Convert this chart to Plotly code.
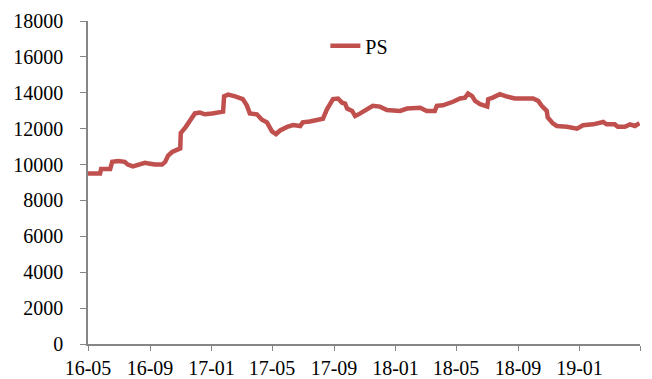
import plotly.graph_objects as go

# PS series
dates = [
    "2016-05-01", "2016-05-25", "2016-05-27", "2016-06-14", "2016-06-18", "2016-06-30",
    "2016-07-13", "2016-07-19", "2016-07-29", "2016-08-12", "2016-08-22", "2016-09-01",
    "2016-09-11", "2016-09-25", "2016-10-01", "2016-10-07", "2016-10-15", "2016-10-31",
    "2016-11-01", "2016-11-11", "2016-11-21", "2016-11-29", "2016-12-09", "2016-12-19",
    "2017-01-02", "2017-01-18", "2017-01-24", "2017-01-26", "2017-02-03", "2017-02-17",
    "2017-03-04", "2017-03-12", "2017-03-18", "2017-04-01", "2017-04-11", "2017-04-21",
    "2017-05-01", "2017-05-09", "2017-05-17", "2017-05-31", "2017-06-12", "2017-06-26",
    "2017-07-01", "2017-07-15", "2017-07-29", "2017-08-10", "2017-08-18", "2017-08-30",
    "2017-09-09", "2017-09-17", "2017-09-23", "2017-09-27", "2017-10-07", "2017-10-13",
    "2017-10-23", "2017-11-05", "2017-11-17", "2017-12-01", "2017-12-15", "2018-01-10",
    "2018-01-24", "2018-02-19", "2018-03-04", "2018-03-20", "2018-03-24", "2018-04-05",
    "2018-04-13", "2018-04-25", "2018-05-09", "2018-05-19", "2018-05-25", "2018-06-02",
    "2018-06-08", "2018-06-18", "2018-07-02", "2018-07-04", "2018-07-13", "2018-07-27",
    "2018-08-10", "2018-08-26", "2018-10-01", "2018-10-11", "2018-10-18", "2018-10-28",
    "2018-10-30", "2018-11-09", "2018-11-17", "2018-12-07", "2018-12-27", "2019-01-08",
    "2019-01-28", "2019-02-17", "2019-02-24", "2019-03-12", "2019-03-18", "2019-04-01",
    "2019-04-11", "2019-04-21", "2019-04-30",
]
ps = [
    9500, 9500, 9750, 9750, 10150, 10200,
    10150, 10000, 9900, 10050, 10100, 10050,
    10000, 10000, 10150, 10500, 10700, 10900,
    11750, 12100, 12500, 12850, 12900, 12800,
    12850, 12950, 12950, 13800, 13900, 13800,
    13650, 13300, 12850, 12800, 12500, 12350,
    11850, 11700, 11900, 12100, 12200, 12150,
    12350, 12400, 12500, 12550, 13080, 13650,
    13680, 13450, 13400, 13120, 12990, 12700,
    12850, 13080, 13270, 13230, 13040, 12990,
    13120, 13170, 12990, 12990, 13270, 13300,
    13360, 13500, 13680, 13730, 13960, 13820,
    13550, 13360, 13230, 13640, 13730, 13920,
    13790, 13680, 13680, 13550, 13270, 12990,
    12620, 12300, 12150, 12110, 12000, 12190,
    12240, 12370, 12240, 12240, 12110, 12110,
    12240, 12150, 12300,
]

tick_dates = ["2016-05-01", "2016-09-01", "2017-01-01", "2017-05-01", "2017-09-01",
              "2018-01-01", "2018-05-01", "2018-09-01", "2019-01-01", "2019-05-01"]
tick_labels = ["16-05", "16-09", "17-01", "17-05", "17-09",
               "18-01", "18-05", "18-09", "19-01", ""]

fig = go.Figure()
fig.add_trace(
    go.Scatter(
        x=dates,
        y=ps,
        mode='lines',
        name='PS',
        line=dict(color='#C0504D', width=4.5),
    )
)

# the page body has an 8px margin, so the figure is 8px smaller on each side
axis_color = '#868686'
fig.update_layout(
    width=644,
    height=371,
    margin=dict(l=80, r=12, t=13, b=35),
    plot_bgcolor='white',
    paper_bgcolor='white',
    font=dict(family='Liberation Serif, Times New Roman, serif', size=20, color='black'),
    showlegend=True,
    legend=dict(
        x=0.43, y=0.923, xanchor='left', yanchor='middle',
        bgcolor='rgba(0,0,0,0)', font=dict(size=20),
    ),
    xaxis=dict(
        range=["2016-05-01", "2019-05-01"],
        tickmode='array',
        tickvals=tick_dates,
        ticktext=tick_labels,
        showgrid=False,
        showline=True,
        linecolor=axis_color,
        linewidth=1.5,
        ticks='outside',
        ticklen=5,
        tickcolor=axis_color,
        zeroline=False,
        automargin=False,
        ticklabelstandoff=0,
    ),
    yaxis=dict(
        range=[0, 18000],
        dtick=2000,
        showgrid=False,
        showline=True,
        linecolor=axis_color,
        linewidth=1.5,
        ticks='outside',
        ticklen=6,
        tickcolor=axis_color,
        zeroline=False,
        tickformat='d',
        automargin=False,
        ticklabelstandoff=13,
    ),
)

fig.write_html("out.html")
